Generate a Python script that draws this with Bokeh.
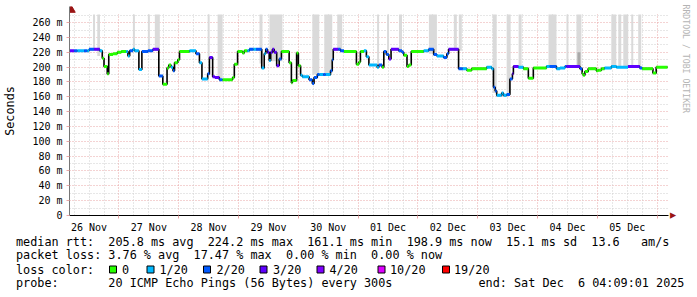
from bokeh.plotting import figure
from bokeh.models import Range1d, FixedTicker, Grid, Title
from bokeh.layouts import column
from bokeh.embed import file_html
from bokeh.resources import INLINE
from bokeh.core.properties import value

FONT = "DejaVu Sans Mono"

# time axis: hours since 26 Nov 00:00
start_h = 4.15
end_h = 244.15
span_h = 240.4

# median rtt steps: start hour, median (ms), lost pings out of 20
step_start_h = [4.2, 6.0, 7.3, 10.0, 11.3, 12.0, 14.0, 16.3, 17.3, 18.0, 19.3, 19.9, 21.6, 23.3, 24.9,
                26.9, 27.6, 28.3, 29.6, 30.3, 32.0, 33.2, 35.6, 37.6, 40.0, 41.6, 43.3, 44.0, 44.9,
                45.7, 46.3, 47.6, 48.3, 52.3, 54.9, 56.3, 57.3, 59.6, 60.3, 61.6, 62.5, 64.3, 65.6,
                69.6, 70.3, 71.6, 73.6, 74.3, 75.5, 76.3, 78.0, 79.0, 81.3, 82.3, 82.9, 83.6, 84.3,
                84.9, 85.6, 86.3, 87.3, 88.3, 89.2, 92.3, 93.2, 93.6, 95.3, 96.0, 96.9, 97.6, 100.3,
                101.6, 102.3, 103.6, 104.5, 106.0, 107.0, 108.9, 109.6, 110.0, 112.0, 112.9, 114.3,
                119.3, 120.3, 120.9, 122.3, 123.3, 124.3, 127.6, 128.3, 129.6, 130.3, 131.3, 132.3,
                133.2, 136.3, 137.6, 138.3, 139.6, 140.3, 141.3, 146.3, 148.3, 150.3, 151.6, 154.3,
                155.6, 156.3, 160.3, 162.0, 163.6, 165.6, 171.6, 173.6, 174.3, 175.0, 175.6, 177.6,
                178.3, 179.6, 180.9, 181.9, 182.3, 184.3, 186.3, 188.3, 190.3, 195.6, 196.9, 199.6,
                201.0, 203.0, 203.6, 209.0, 209.9, 210.3, 211.0, 212.3, 215.6, 216.3, 217.6, 218.9,
                221.6, 223.6, 228.3, 233.0, 234.0, 238.3, 239.6]
step_rtt_ms = [222, 222, 222, 222, 222, 224, 224, 222, 212, 201, 191, 217, 218, 220, 221,
               221, 215, 222, 224, 222, 197, 221, 222, 224, 188, 177, 199, 203, 200,
               195, 206, 210, 221, 222, 218, 206, 184, 191, 213, 187, 186, 183, 183,
               186, 204, 221, 219, 222, 222, 224, 224, 224, 199, 218, 224, 220, 209,
               220, 224, 220, 202, 211, 221, 206, 179, 182, 219, 202, 189, 187, 183,
               178, 186, 190, 190, 190, 190, 195, 210, 224, 224, 222, 221,
               204, 207, 221, 222, 214, 203, 200, 203, 200, 221, 217, 211,
               224, 222, 220, 216, 201, 203, 221, 222, 224, 217, 215, 213,
               218, 224, 198, 198, 196, 198, 200, 198, 173, 168, 162, 165,
               162, 163, 184, 191, 201, 200, 198, 185, 199, 201, 201, 198,
               199, 201, 201, 198, 191, 189, 194, 198, 195, 196, 198, 199,
               201, 200, 201, 199, 198, 192, 200]
step_loss = [3, 2, 1, 2, 1, 2, 3, 1, 0, 0, 0, 0, 0, 0, 0,
             1, 1, 2, 1, 1, 1, 2, 2, 3, 2, 0, 0, 0, 1,
             2, 0, 0, 0, 1, 2, 1, 1, 2, 3, 3, 3, 2, 0,
             0, 0, 0, 0, 0, 1, 2, 1, 2, 1, 1, 2, 3, 1,
             3, 3, 3, 3, 2, 0, 0, 0, 0, 0, 0, 1, 1, 2,
             2, 2, 2, 1, 2, 1, 2, 2, 3, 2, 2, 0,
             0, 0, 0, 1, 1, 1, 1, 2, 0, 2, 2, 3,
             3, 2, 2, 0, 0, 0, 0, 1, 2, 2, 1, 2,
             2, 3, 2, 1, 0, 0, 1, 1, 2, 2, 1, 1,
             1, 2, 2, 3, 3, 1, 0, 0, 0, 1, 2, 1,
             1, 2, 3, 2, 0, 0, 0, 0, 0, 0, 0, 1,
             1, 1, 3, 2, 0, 0, 0]

# smoke (spread of the pings) bands: left hour, right hour, lowest ms (top runs off the chart)
smoke_left_h = [13.6, 15.3, 29.6, 35.6, 38.4, 59.6, 63.6, 80.4, 84.4, 101.6, 106.4, 111.6, 127.6,
                131.6, 136.4, 148.4, 158.4, 160.4, 174.0, 179.6, 184.4, 196.4, 203.6, 207.6,
                221.6, 224.4, 226.4, 229.6, 232.4]
smoke_right_h = [14.4, 16.4, 30.4, 36.4, 40.4, 60.4, 65.6, 81.6, 89.6, 104.4, 109.6, 113.6, 128.4,
                 132.4, 137.6, 151.6, 159.6, 161.6, 175.6, 181.2, 185.6, 199.6, 204.4, 209.6,
                 223.6, 225.6, 228.4, 230.4, 233.6]
smoke_low_ms = [223, 215, 222, 220, 222, 213, 185, 205, 208, 190, 192, 222, 200,
                220, 222, 218, 222, 222, 165, 165, 198, 200, 200, 200,
                200, 200, 200, 200, 200]
dark_smoke_left_h = [208.0]
dark_smoke_right_h = [209.2]
dark_smoke_low_ms = [200]
dark_smoke_high_ms = [220]

day_label_h = [12, 36, 60, 84, 108, 132, 156, 180, 204, 228]
day_labels = ["26 Nov", "27 Nov", "28 Nov", "29 Nov", "30 Nov", "01 Dec", "02 Dec", "03 Dec", "04 Dec", "05 Dec"]
midnight_h = [24, 48, 72, 96, 120, 144, 168, 192, 216, 240]
y_ticks = [0, 20, 40, 60, 80, 100, 120, 140, 160, 180, 200, 220, 240, 260]
y_labels = ["0"] + [f"{t} m" for t in y_ticks[1:]]
y_chart_top = 271          # top of the graph area (ms)

loss_steps = [0, 1, 2, 3, 4, 10, 19]
loss_names = ["0", "1/20", "2/20", "3/20", "4/20", "10/20", "19/20"]
loss_colors = ["#26ff00", "#00b8ff", "#0059ff", "#5e00ff", "#7e00ff", "#dd00ff", "#ff0000"]
color_of = dict(zip(loss_steps, loss_colors))

legend_rows = ["median rtt:  205.8 ms avg  224.2 ms max  161.1 ms min  198.9 ms now  15.1 ms sd  13.6   am/s",
               "packet loss: 3.76 % avg  17.47 % max  0.00 % min  0.00 % now",
               "loss color:",
               "probe:       20 ICMP Echo Pings (56 Bytes) every 300s"]
end_text = "end: Sat Dec  6 04:09:01 2025"


def nb(s):
    return s.replace(" ", "\u00a0")


MAJ = "#e8a6a6"
MIN = "#cfcfcf"
ARROW = "#9a1414"
TOP_H = 235
FRAME_TOP = 6                  # extra room above the graph for the y-axis arrow head
MS_PER_PX = y_chart_top / 201.0
y_top = y_chart_top + (14 - FRAME_TOP) * MS_PER_PX

p = figure(width=697, height=TOP_H, output_backend="svg", toolbar_location=None,
           x_range=Range1d(start_h, start_h + span_h), y_range=Range1d(0, y_top),
           min_border_left=67, min_border_right=29, min_border_top=FRAME_TOP, min_border_bottom=20,
           frame_align=False)
p.outline_line_color = None
p.background_fill_color = "white"

# grids
p.xgrid.visible = False
p.add_layout(Grid(dimension=0,
                  ticker=FixedTicker(ticks=midnight_h,
                                     minor_ticks=[h for h in range(6, 245, 6) if h % 24]),
                  grid_line_color=MAJ, grid_line_dash="1 2",
                  minor_grid_line_color=MIN, minor_grid_line_dash="1 2"))
p.ygrid.ticker = FixedTicker(ticks=y_ticks, minor_ticks=[t + 10 for t in y_ticks])
p.ygrid.grid_line_color = MAJ
p.ygrid.grid_line_dash = "1 2"
p.ygrid.minor_grid_line_color = MIN
p.ygrid.minor_grid_line_dash = "1 2"

# axes
p.xaxis.ticker = FixedTicker(ticks=day_label_h, minor_ticks=midnight_h)
p.xaxis.major_label_overrides = dict(zip(day_label_h, day_labels))
p.xaxis.major_tick_line_color = None
p.xaxis.major_tick_out = 0
p.xaxis.major_tick_in = 0
p.xaxis.minor_tick_line_color = MAJ
p.xaxis.minor_tick_out = 3
p.xaxis.minor_tick_in = 0
p.xaxis.axis_line_color = "black"
p.xaxis.major_label_standoff = 3
p.yaxis.ticker = FixedTicker(ticks=y_ticks)
p.yaxis.major_label_overrides = dict(zip(y_ticks, y_labels))
p.yaxis.major_tick_line_color = MAJ
p.yaxis.major_tick_out = 3
p.yaxis.major_tick_in = 0
p.yaxis.minor_tick_line_color = None
p.yaxis.axis_line_color = "#777777"
p.yaxis.major_label_standoff = 4
p.yaxis.axis_label = "Seconds"
p.yaxis.axis_label_standoff = 12
for ax in (p.xaxis, p.yaxis):
    ax.major_label_text_font = FONT
    ax.major_label_text_font_size = "10px"
    ax.major_label_text_color = "black"
    ax.axis_label_text_font = FONT
    ax.axis_label_text_font_size = "11.8px"
    ax.axis_label_text_font_style = "normal"
    ax.axis_label_text_color = "black"

# x-axis arrow head and the vertical credit on the right
p.add_layout(Title(text="\u25b2", text_font="DejaVu Sans", text_font_size="8px", text_color=ARROW,
                   text_font_style="normal", align="left", offset=215 - FRAME_TOP - 3, standoff=0),
             "right")
p.add_layout(Title(text="RRDTOOL / TOBI OETIKER", text_font=FONT, text_font_size="8.2px",
                   text_color="#b4b4b4", text_font_style="normal", align="left",
                   offset=4 - FRAME_TOP, standoff=2), "right")

# smoke
p.quad(left=smoke_left_h, right=smoke_right_h, bottom=smoke_low_ms, top=y_chart_top,
       fill_color="#dadada", line_color=None)
p.quad(left=dark_smoke_left_h, right=dark_smoke_right_h, bottom=dark_smoke_low_ms,
       top=dark_smoke_high_ms, fill_color="#a9a9a9", line_color=None)

# blank strip above the graph area (room for the arrow head), hiding the grid there
p.quad(left=[start_h], right=[start_h + span_h], bottom=[y_chart_top + 0.6], top=[y_top],
       fill_color="white", line_color=None)
# y-axis arrow head (nudged right so that the frame edge does not cut it away)
p.scatter(x=[start_h + 0.7], y=[y_chart_top + 4.5 * MS_PER_PX], marker="triangle", size=8,
          fill_color=ARROW, line_color=ARROW)

# median
xs = step_start_h + [end_h]
ys = step_rtt_ms + [step_rtt_ms[-1]]
p.step(xs, ys, mode="after", line_color="black", line_width=1.6)
p.segment(x0=step_start_h, x1=step_start_h[1:] + [end_h], y0=step_rtt_ms, y1=step_rtt_ms,
          line_color=[color_of[l] for l in step_loss], line_width=3, line_cap="butt")

# legend block: a second figure whose data units are pixels
LH = 297 - TOP_H
q = figure(width=697, height=LH, output_backend="svg", toolbar_location=None,
           x_range=Range1d(0, 697), y_range=Range1d(LH, 0), min_border=0,
           x_axis_location=None, y_axis_location=None, frame_align=False)
q.outline_line_color = None
q.xgrid.visible = False
q.ygrid.visible = False

row_y = [241 - TOP_H, 254.5 - TOP_H, 269 - TOP_H, 282.5 - TOP_H]
q.text(x=[15.5] * 4, y=row_y, text=[nb(t) for t in legend_rows], text_font=value(FONT),
       text_font_size="11.8px", text_baseline="middle", text_align="left", text_color="black")
q.text(x=[478], y=[row_y[3]], text=[nb(end_text)], text_font=value(FONT),
       text_font_size="11.8px", text_baseline="middle", text_align="left", text_color="black")
sq_x = [112.5, 150, 206.5, 263, 320, 381, 445.5]
lab_x = [121.5, 159, 216, 272.5, 329, 389.5, 453.5]
q.rect(x=sq_x, y=[row_y[2]] * 7, width=7, height=7, fill_color=loss_colors,
       line_color="black", line_width=1)
q.text(x=lab_x, y=[row_y[2]] * 7, text=loss_names, text_font=value(FONT),
       text_font_size="11.8px", text_baseline="middle", text_align="left", text_color="black")

layout = column(p, q, spacing=0)
open("out.html", "w").write(file_html(layout, INLINE))
